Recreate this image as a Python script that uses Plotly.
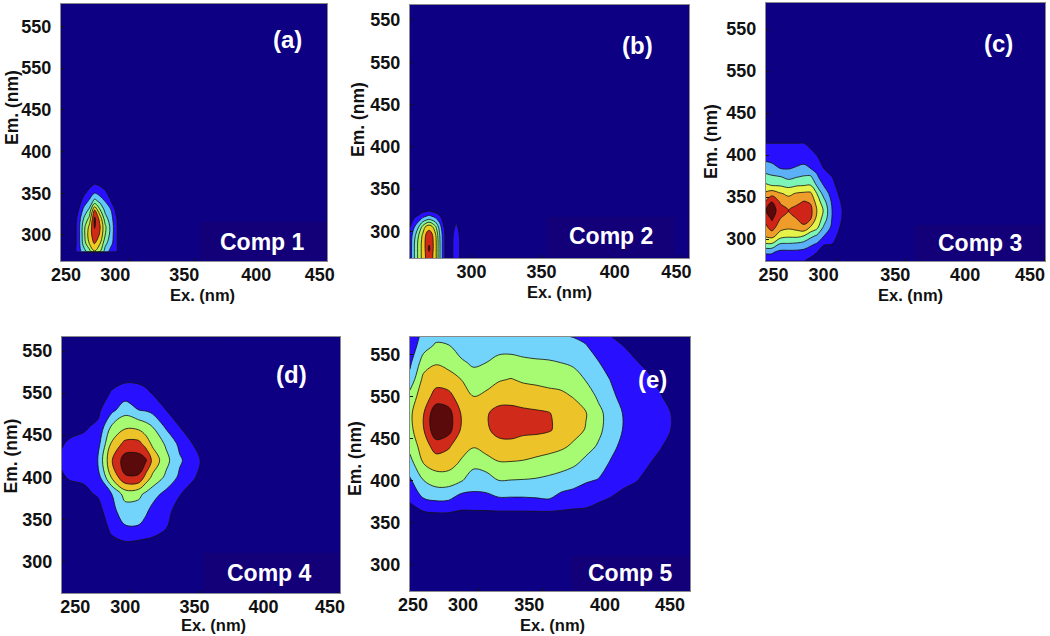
import numpy as np
import plotly.graph_objects as go

# ---------- Panel (a) Comp 1 ----------
ex_a = [258.5, 262.5, 266.5, 270.5, 274.5, 278.5, 282.5, 286.5, 290.5, 294.5]
em_a = [279, 280, 290, 300, 310, 320, 330, 340, 350, 360, 370]
z_a_by_ex = [
    [0, .3, .3, .3, .3, .3, .1, 0, 0, 0, 0],
    [0, 1.5, 1.6, 1.6, 1.6, 1.4, 1.0, .5, .2, 0, 0],
    [0, 2.5, 3.5, 3.7, 3.7, 3.1, 2.3, 1.5, .8, .3, 0],
    [0, 3.5, 5.0, 5.5, 5.2, 4.2, 3.2, 2.2, 1.4, .7, 0],
    [0, 4.9, 6.1, 6.6, 7.1, 7.2, 6.0, 3.4, 2.05, 1.1, 0],
    [0, 4.0, 5.1, 5.9, 6.1, 5.6, 4.1, 2.8, 1.6, .9, 0],
    [0, 2.5, 3.3, 4.0, 4.2, 3.4, 2.7, 2.0, 1.2, .6, 0],
    [0, 1.6, 2.4, 2.7, 2.8, 2.5, 2.1, 1.1, .6, .2, 0],
    [0, 1.2, 1.3, 1.3, 1.3, 1.2, .8, .2, 0, 0, 0],
    [0, .1, .1, .1, .1, .1, 0, 0, 0, 0, 0],
]

# ---------- Panel (b) Comp 2 ----------
ex_b = [256, 259, 262, 265, 268, 269.5, 271, 274, 277, 280, 283, 286, 289, 292, 295]
em_b = [268, 275, 280, 285, 295, 305, 315, 325]
z_b_by_ex = [
    [1.5, 1.5, 1.5, 1.5, 1.4, 1.0, .3, 0],
    [3, 3, 3, 3, 2.7, 2.0, 1.1, 0],
    [4.3, 4.3, 4.3, 4.3, 4.0, 3.0, 1.5, .3],
    [5.4, 5.4, 5.4, 5.4, 5.2, 4.4, 2.2, .6],
    [6.3, 6.4, 6.5, 6.5, 6.4, 5.5, 2.6, .7],
    [6.5, 6.9, 7.3, 6.9, 6.5, 5.7, 2.8, .8],
    [6.3, 6.4, 6.5, 6.5, 6.4, 5.5, 2.6, .7],
    [5.5, 5.5, 5.5, 5.5, 5.3, 4.3, 2.2, .5],
    [3.2, 3.2, 3.2, 3.2, 3.1, 2.6, 1.5, .2],
    [1.4, 1.4, 1.4, 1.4, 1.4, 1.1, .5, 0],
    [0] * 8,
    [.7, .8, .8, .8, .7, .5, .2, 0],
    [1.9, 1.9, 1.9, 1.9, 1.8, 1.3, .6, 0],
    [.7, .8, .8, .8, .7, .5, .2, 0],
    [0] * 8,
]

# ---------- Panel (c) Comp 3 ----------
ex_c = [248, 253, 259, 265, 271, 276, 281, 285.5, 290.5, 296.5, 303.5, 309.5]
em_c = [274, 284, 294, 304, 314, 324, 334, 344, 354, 364, 374, 384, 394, 404, 414, 416]
z_c_by_ex = [
    [1.5, 2.1, 3.9, 5.15, 5.7, 6.2, 6.9, 6.0, 5.2, 4.2, 3.3, 2.6, 1.9, 1.5, 1.05, 0],
    [1.5, 2.1, 3.9, 5.4, 6.45, 7.15, 7.6, 7.1, 5.6, 3.95, 3.15, 2.35, 1.8, 1.45, 1.05, 0],
    [1.1, 1.7, 2.9, 4.5, 5.4, 6.0, 6.4, 5.9, 5.1, 3.9, 3.05, 2.0, 1.7, 1.35, 1.05, 0],
    [1.05, 1.7, 2.9, 4.25, 5.2, 5.7, 6.0, 5.45, 4.8, 3.7, 2.7, 1.95, 1.65, 1.35, 1.05, 0],
    [1.05, 1.7, 2.8, 4.3, 5.4, 6.0, 6.5, 5.7, 5.1, 3.9, 2.95, 2.1, 1.7, 1.35, 1.0, 0],
    [1.05, 1.65, 2.6, 4.05, 5.8, 6.4, 6.6, 6.1, 5.2, 3.95, 3.1, 2.25, 1.75, 1.4, 1.0, 0],
    [.7, 1.4, 2.2, 3.3, 4.9, 6.05, 6.3, 5.9, 5.2, 4.0, 3.15, 2.0, 1.6, 1.15, .7, 0],
    [.3, 1.0, 1.9, 2.9, 4.3, 4.7, 5.0, 4.6, 4.0, 2.9, 2.2, 1.65, 1.25, .8, .2, 0],
    [0, .7, 1.05, 2.05, 2.85, 3.6, 3.9, 3.4, 2.6, 1.95, 1.3, 1.0, .6, .2, 0, 0],
    [0, .4, 1.0, 1.5, 1.8, 1.95, 2.0, 1.85, 1.6, 1.3, 1.0, .6, .3, 0, 0, 0],
    [0, 0, .2, .5, .8, 1.0, 1.05, .9, .65, .4, .2, 0, 0, 0, 0, 0],
    [0] * 16,
]

# ---------- Panel (d) Comp 4 ----------
ex_d = [245, 255, 265, 275, 285, 295, 305, 310, 315, 325, 335, 345, 355, 365]
em_d = [300, 320, 340, 360, 380, 400, 420, 440, 460, 480, 500, 520, 540, 560]
z_d_by_ex = [
    [0, 0, 0, 0, 0, .8, .95, .8, 0, 0, 0, 0, 0, 0],
    [0, 0, 0, 0, .6, 1.1, 1.3, 1.15, .7, 0, 0, 0, 0, 0],
    [0, 0, 0, .3, .8, 1.15, 1.4, 1.2, .9, .4, 0, 0, 0, 0],
    [0, 0, .1, .6, 1.1, 1.5, 2.0, 1.6, 1.15, .8, .3, 0, 0, 0],
    [0, .6, 1.3, 1.7, 1.95, 4.05, 4.9, 4.1, 3.1, 1.7, 1.1, .5, .1, 0],
    [0, .8, 1.9, 2.5, 3.4, 5.9, 6.5, 5.3, 3.8, 2.6, 1.45, .7, .2, 0],
    [0, .7, 1.9, 2.5, 3.25, 5.9, 6.5, 5.3, 3.7, 2.0, 1.35, .7, .2, 0],
    [0, .7, 1.6, 2.2, 2.8, 4.7, 6.2, 4.6, 3.4, 1.9, 1.2, .6, .1, 0],
    [0, .7, 1.4, 1.7, 2.4, 3.8, 4.8, 3.8, 3.0, 1.7, .95, .5, 0, 0],
    [0, .3, 1.05, 1.3, 1.7, 2.8, 3.3, 2.85, 1.85, 1.0, .6, .2, 0, 0],
    [0, 0, .3, .6, 1.05, 1.8, 2.15, 1.75, 1.0, .5, .1, 0, 0, 0],
    [0, 0, 0, 0, .6, 1.1, 1.4, .95, .5, .1, 0, 0, 0, 0],
    [0, 0, 0, 0, .2, .5, .6, .3, .2, 0, 0, 0, 0, 0],
    [0] * 14,
]

# ---------- Panel (e) Comp 5 ----------
ex_e = [244, 255, 265, 275, 285, 295, 305, 315, 325, 335, 345, 355, 365, 375, 385,
        395, 405, 415, 425, 435, 445, 455, 465]
em_e = [340, 360, 380, 400, 420, 440, 460, 480, 500, 520, 540, 560, 575]
z_e_by_ex = [
    [0, .6, 1.2, 1.85, 2.6, 3.3, 3.7, 3.8, 3.4, 2.3, 1.8, 1.4, 1.1],
    [0, .8, 2.1, 3.0, 4.0, 4.5, 4.95, 4.95, 4.6, 4.3, 3.5, 2.6, 2.3],
    [0, .9, 2.3, 3.45, 4.45, 5.4, 6.8, 6.8, 5.3, 4.7, 3.9, 3.15, 2.6],
    [0, .9, 2.25, 3.45, 4.4, 5.1, 6.4, 6.4, 5.3, 4.45, 3.65, 3.05, 2.6],
    [0, .8, 1.7, 3.1, 3.85, 4.4, 4.9, 4.95, 4.5, 4.0, 3.15, 2.6, 2.3],
    [0, .8, 1.75, 2.5, 3.25, 4.05, 4.3, 4.35, 4.0, 3.4, 2.85, 2.5, 2.2],
    [0, .8, 1.8, 2.55, 3.45, 4.45, 4.85, 4.9, 4.2, 3.6, 3.0, 2.5, 2.2],
    [0, .8, 2.0, 3.0, 3.9, 4.65, 5.3, 5.3, 4.6, 3.9, 3.3, 2.65, 2.2],
    [0, .8, 2.0, 2.98, 3.9, 4.7, 5.35, 5.3, 4.65, 4.05, 3.3, 2.7, 2.2],
    [0, .8, 2.0, 2.95, 3.85, 4.6, 5.2, 5.2, 4.55, 3.85, 3.2, 2.6, 2.2],
    [0, .8, 2.05, 2.9, 3.7, 4.47, 5.2, 5.15, 4.4, 3.8, 3.15, 2.5, 2.15],
    [0, .8, 2.15, 2.76, 3.6, 4.3, 5.1, 5.05, 4.3, 3.7, 3.1, 2.5, 2.1],
    [0, .8, 1.75, 2.6, 3.4, 4.15, 4.75, 4.75, 4.2, 3.65, 3.0, 2.35, 1.95],
    [0, .75, 1.6, 2.4, 3.15, 3.85, 4.3, 4.4, 3.95, 3.4, 2.85, 2.3, 1.85],
    [0, .75, 1.45, 2.1, 2.75, 3.3, 3.95, 4.05, 3.5, 2.95, 2.5, 2.05, 1.7],
    [0, .5, 1.25, 1.95, 2.4, 2.9, 3.2, 3.25, 2.85, 2.5, 2.05, 1.6, 1.3],
    [0, .4, 1.0, 1.45, 1.9, 2.25, 2.6, 2.6, 2.25, 1.95, 1.55, 1.2, .95],
    [0, .3, .8, 1.2, 1.5, 1.75, 1.95, 1.95, 1.65, 1.45, 1.2, 1.0, .8],
    [0, .2, .6, 1.05, 1.25, 1.45, 1.6, 1.6, 1.4, 1.25, 1.05, .8, .5],
    [0, .1, .4, .75, 1.05, 1.25, 1.4, 1.4, 1.25, 1.1, .85, .5, .3],
    [0, 0, .2, .4, .7, 1.05, 1.2, 1.2, 1.05, .8, .5, .2, 0],
    [0, 0, .1, .2, .4, .6, .95, .95, .6, .4, .2, 0, 0],
    [0] * 13,
]

# ---------- Axis labels, as printed in the source (the fifth y label repeats 550) ----------
em_ticks = [300, 350, 400, 450, 500, 550]
em_tick_text = ["300", "350", "400", "450", "550", "550"]
ex_tick_text = ["250", "300", "350", "400", "450"]
ex_true_ticks = [300, 350, 400, 450]

# where each printed Ex label sits on its panel's scale
ex_label_a = [253, 290, 342, 396, 443.75]
ex_label_b = [None, 300, 350.1, 402.6, 446.8]
ex_label_c = [254.2, 290.4, 342.2, 392.8, 439.8]
ex_label_d = [258.5, 295.1, 345.9, 396.3, 445.1]
ex_label_e = [246.5, 286.6, 339.6, 400.3, 452.4]

NAVY = "#0e0082"
colors7a = [NAVY, "#2810ff", "#62c8fb", "#7ef0ae", "#b4f25a", "#f0cc22", "#d02a18", "#560808"]
colors7b = [NAVY, "#2810ff", "#5cb0f8", "#7df5b8", "#e4f24a", "#ee9c2a", "#d02418", "#5a0808"]
colors6 = [NAVY, "#2810ff", "#72d4fb", "#a6fb72", "#ecc42a", "#cf2a1a", "#5a0a0a"]

panels = [
    dict(ex=ex_a, em=em_a, z=z_a_by_ex, colors=colors7a, frame=(61, 327, 4, 261),
         xr=(249.25, 449.25), yr=(268.8, 576.8), xl=ex_label_a, tag="(a)", comp="Comp 1",
         tagp=(287, 40), compp=(262, 242), exp=(202, 295), emp=(12, 108), patch=(200, 326, 222, 260)),
    dict(ex=ex_b, em=em_b, z=z_b_by_ex, colors=colors7a, frame=(410, 689, 5, 258),
         xr=(255.85, 455.85), yr=(268.5, 567.7), xl=ex_label_b, tag="(b)", comp="Comp 2",
         tagp=(637, 46), compp=(611, 236), exp=(559, 292), emp=(358, 120), patch=(547, 675, 217, 257)),
    dict(ex=ex_c, em=em_c, z=z_c_by_ex, colors=colors7b, frame=(766, 1045, 3, 261),
         xr=(248.7, 450.6), yr=(273.8, 581), xl=ex_label_c, tag="(c)", comp="Comp 3",
         tagp=(998, 43), compp=(980, 243), exp=(910, 295), emp=(711, 142), patch=(915, 1044, 225, 260)),
    dict(ex=ex_d, em=em_d, z=z_d_by_ex, colors=colors6, frame=(62, 340, 337, 593),
         xr=(248.8, 452.4), yr=(262.3, 566.7), xl=ex_label_d, tag="(d)", comp="Comp 4",
         tagp=(291, 374), compp=(269, 573), exp=(213, 625), emp=(10.5, 456), patch=(203, 339, 553, 592)),
    dict(ex=ex_e, em=em_e, z=z_e_by_ex, colors=colors6, frame=(410, 690, 337, 591),
         xr=(244.1, 468.4), yr=(268.3, 570.6), xl=ex_label_e, tag="(e)", comp="Comp 5",
         tagp=(652, 379), compp=(630, 573), exp=(552, 625), emp=(355, 459), patch=(572, 689, 556, 590)),
]

W, H = 1050, 636
FONT = "Liberation Sans"
fx = lambda p: p / W
fy = lambda p: 1 - p / H

fig = go.Figure()
annotations, shapes = [], []


def text(s, p, size, color, angle=0):
    annotations.append(dict(text=f"<b>{s}</b>", x=fx(p[0]), y=fy(p[1]), xref="paper", yref="paper",
                            xanchor="center", yanchor="middle", showarrow=False, textangle=angle,
                            borderpad=0, font=dict(family=FONT, size=size, color=color)))


layout_axes = {}
for i, p in enumerate(panels, 1):
    n = len(p["colors"]) - 1
    scale = [[k / n, c] for k, c in enumerate(p["colors"])]
    fig.add_trace(go.Contour(
        x=p["ex"], y=p["em"], z=np.array(p["z"], dtype=float).T.tolist(),
        xaxis=f"x{i}", yaxis=f"y{i}",
        autocontour=False, contours=dict(start=1, end=n, size=1, coloring="fill"),
        colorscale=scale, showscale=False,
        line=dict(color="#14100f", width=0.8, smoothing=1), hoverinfo="skip",
    ))
    x0, x1, y0, y1 = p["frame"]
    pairs = [(v, t) for v, t in zip(p["xl"], ex_tick_text) if v is not None]
    layout_axes[f"xaxis{i}"] = dict(
        domain=[fx(x0), fx(x1)], range=list(p["xr"]), anchor=f"y{i}",
        tickmode="array", tickvals=[v for v, _ in pairs], ticktext=[t for _, t in pairs],
        ticks="", showgrid=False, zeroline=False, showline=True, mirror=True,
        linecolor="#8a8a8a", linewidth=1, ticklabelstandoff=-3,
        tickfont=dict(family=FONT, size=18, color="#111", weight="bold"),
        minor=dict(tickmode="array", tickvals=ex_true_ticks, ticks="inside", ticklen=3,
                   tickcolor="#111", showgrid=False),
    )
    layout_axes[f"yaxis{i}"] = dict(
        domain=[fy(y1), fy(y0)], range=list(p["yr"]), anchor=f"x{i}",
        tickmode="array", tickvals=em_ticks, ticktext=em_tick_text,
        ticks="", showgrid=False, zeroline=False, showline=True, mirror=True,
        linecolor="#8a8a8a", linewidth=1, ticklabelstandoff=5,
        tickfont=dict(family=FONT, size=18, color="#111", weight="bold"),
        minor=dict(tickmode="array", tickvals=em_ticks, ticks="inside", ticklen=3,
                   tickcolor="#111", showgrid=False),
    )
    a, b, c, d = p["patch"]
    shapes.append(dict(type="rect", xref="paper", yref="paper", x0=fx(a), x1=fx(b), y0=fy(d), y1=fy(c),
                       fillcolor="#130078", line_width=0, layer="above"))
    text(p["tag"], p["tagp"], 24, "white")
    text(p["comp"], p["compp"], 23, "white")
    text("Ex. (nm)", p["exp"], 16.5, "#111")
    text("Em. (nm)", p["emp"], 17.5, "#111", angle=-90)

fig.update_layout(
    width=W, height=H, margin=dict(l=0, r=0, t=0, b=0, autoexpand=False), autosize=False,
    paper_bgcolor="white", plot_bgcolor=NAVY, showlegend=False,
    annotations=annotations, shapes=shapes, **layout_axes,
)
fig.write_html("out.html", config={"displayModeBar": False},
               post_script="document.body.style.margin='0';document.body.style.overflow='hidden';")
